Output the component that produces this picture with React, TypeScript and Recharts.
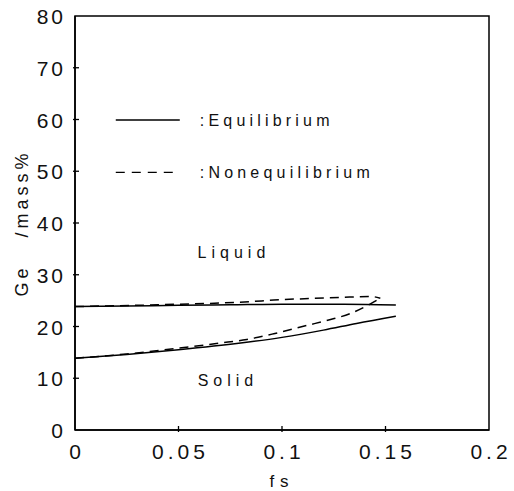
import React from "react";
import { LineChart, Line, XAxis, YAxis, ReferenceArea, ReferenceDot } from "recharts";

const fsEqLiquid = [0, 0.025, 0.05, 0.075, 0.1, 0.13, 0.155];
const geEqLiquid = [23.85, 23.95, 24.1, 24.2, 24.3, 24.3, 24.15];
const fsEqSolid = [0, 0.025, 0.05, 0.08, 0.1, 0.12, 0.136, 0.155];
const geEqSolid = [13.85, 14.6, 15.5, 16.8, 17.9, 19.3, 20.6, 22.0];
const fsNeLiquid = [0, 0.04, 0.0845, 0.096, 0.128, 0.143, 0.1475];
const geNeLiquid = [23.85, 24.2, 24.8, 25.1, 25.6, 25.8, 25.45];
const fsNeSolid = [0, 0.025, 0.05, 0.07, 0.083, 0.096, 0.112, 0.123, 0.133, 0.141, 0.1475];
const geNeSolid = [13.85, 14.7, 15.8, 16.8, 17.5, 18.6, 20.2, 21.3, 22.5, 24.0, 25.45];

const xTicks = [0, 0.05, 0.1, 0.15, 0.2];
const xTickLabels = ["0", "0.05", "0.1", "0.15", "0.2"];
const yTicks = [0, 10, 20, 30, 40, 50, 60, 70, 80];
const legendLabels = [":Equilibrium", ":Nonequilibrium"];

const zip = (xs: number[], ys: number[]) => xs.map((x, i) => ({ fs: x, ge: ys[i] }));
const eqLiquid = zip(fsEqLiquid, geEqLiquid);
const eqSolid = zip(fsEqSolid, geEqSolid);
const neLiquid = zip(fsNeLiquid, geNeLiquid);
const neSolid = zip(fsNeSolid, geNeSolid);

const FONT = "'Liberation Sans', Arial, sans-serif";

const XTick = (props: any) => {
  const { x, y, payload } = props;
  const i = xTicks.indexOf(payload.value);
  const inner = payload.value > 0 && payload.value < 0.2;
  return (
    <g>
      {inner && <line x1={x} x2={x} y1={y} y2={y - 6} stroke="#000" strokeWidth={1.3} />}
      <text x={x + 2} y={y + 27} textAnchor="middle" fontFamily={FONT} fontSize={21} letterSpacing={4} fill="#111">
        {i >= 0 ? xTickLabels[i] : payload.value}
      </text>
    </g>
  );
};

const YTick = (props: any) => {
  const { x, y, payload } = props;
  const inner = payload.value > 0 && payload.value < 80;
  return (
    <g>
      {inner && <line x1={x} x2={x + 6} y1={y} y2={y} stroke="#000" strokeWidth={1.3} />}
      <text x={x - 7} y={y + 8} textAnchor="end" fontFamily={FONT} fontSize={21} letterSpacing={3} fill="#111">
        {payload.value}
      </text>
    </g>
  );
};

const regionLabel = (text: string) => (p: any) => {
  const { cx, cy } = p.viewBox ? { cx: p.viewBox.x + p.viewBox.width / 2, cy: p.viewBox.y + p.viewBox.height / 2 } : p;
  return (
    <text x={cx} y={cy + 6} textAnchor="middle" fontFamily={FONT} fontSize={16} letterSpacing={5} fill="#111">
      {text}
    </text>
  );
};

const legendEntry = (text: string, dashed: boolean) => (p: any) => {
  const vb = p.viewBox;
  const cx = vb.x + (vb.width || 0) / 2;
  const cy = vb.y + (vb.height || 0) / 2;
  return (
    <g>
      <line x1={cx} x2={cx + 64} y1={cy} y2={cy} stroke="#000" strokeWidth={1.3} strokeDasharray={dashed ? "9 7" : undefined} />
      <text x={cx + 84} y={cy + 6} fontFamily={FONT} fontSize={16} letterSpacing={4.2} fill="#111">
        {text}
      </text>
    </g>
  );
};

export default function App() {
  return (
    <div style={{ position: "absolute", left: 0, top: 0, width: 514, height: 491, background: "#fff" }}>
      <LineChart width={514} height={491} margin={{ top: 16, right: 25, left: 0, bottom: 0 }}>
        <XAxis
          type="number"
          dataKey="fs"
          domain={[0, 0.2]}
          ticks={xTicks}
          tick={<XTick />}
          tickLine={false}
          tickSize={0}
          height={61}
          axisLine={{ stroke: "#000", strokeWidth: 1.5 }}
          allowDataOverflow
          label={{ value: "fs", position: "insideBottom", offset: 4, style: { fontFamily: FONT, fontSize: 17, letterSpacing: 6, fill: "#111" } }}
        />
        <YAxis
          type="number"
          dataKey="ge"
          domain={[0, 80]}
          ticks={yTicks}
          tick={<YTick />}
          tickLine={false}
          tickSize={0}
          width={75}
          axisLine={{ stroke: "#000", strokeWidth: 1.5 }}
          label={{
            value: "Ge\u00a0\u00a0\u00a0/mass%",
            angle: -90,
            position: "insideLeft",
            offset: 22,
            style: { fontFamily: FONT, fontSize: 18, letterSpacing: 4, fill: "#111", textAnchor: "middle" },
          }}
        />
        <ReferenceArea x1={0} x2={0.2} y1={0} y2={80} fill="none" stroke="#000" strokeWidth={1.5} ifOverflow="visible" />
        <Line data={eqLiquid} dataKey="ge" type="monotone" stroke="#000" strokeWidth={1.5} dot={false} isAnimationActive={false} />
        <Line data={eqSolid} dataKey="ge" type="monotone" stroke="#000" strokeWidth={1.5} dot={false} isAnimationActive={false} />
        <Line data={neLiquid} dataKey="ge" type="monotone" stroke="#000" strokeWidth={1.5} strokeDasharray="9 6" dot={false} isAnimationActive={false} />
        <Line data={neSolid} dataKey="ge" type="monotone" stroke="#000" strokeWidth={1.5} strokeDasharray="9 6" dot={false} isAnimationActive={false} />
        <ReferenceDot x={0.0768} y={34.4} r={0} fill="none" stroke="none" label={regionLabel("Liquid")} />
        <ReferenceDot x={0.0739} y={9.7} r={0} fill="none" stroke="none" label={regionLabel("Solid")} />
        <ReferenceDot x={0.0197} y={59.9} r={0} fill="none" stroke="none" label={legendEntry(legendLabels[0], false)} />
        <ReferenceDot x={0.0197} y={49.8} r={0} fill="none" stroke="none" label={legendEntry(legendLabels[1], true)} />
      </LineChart>
    </div>
  );
}
